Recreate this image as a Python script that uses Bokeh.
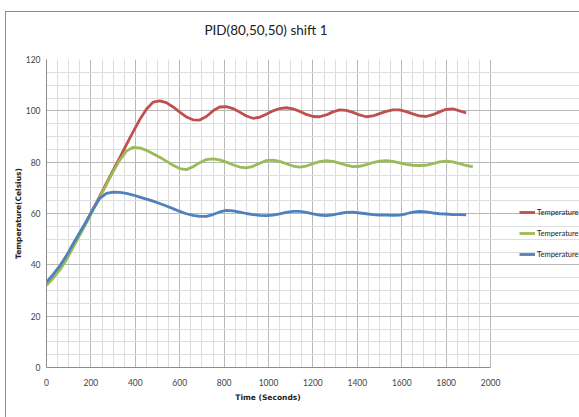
from bokeh.plotting import figure
from bokeh.layouts import column
from bokeh.models import (Range1d, SingleIntervalTicker, Legend, LegendItem, Div)
from bokeh.embed import file_html
from bokeh.resources import INLINE

# Sampling times (s)
time_s = [0, 30, 60, 90, 120, 150, 180, 210, 240, 270, 300, 330, 360, 390, 420,
          450, 480, 510, 540, 570, 600, 630, 660, 690, 720, 750, 780, 810, 840,
          870, 900, 930, 960, 990, 1020, 1050, 1080, 1110, 1140, 1170, 1200,
          1230, 1260, 1290, 1320, 1350, 1380, 1410, 1440, 1470, 1500, 1530,
          1560, 1590, 1620, 1650, 1680, 1710, 1740, 1770, 1800, 1830, 1860, 1890]
time_green = time_s + [1920]

temp_red = [33.0, 35.6, 38.6, 42.5, 47.3, 52.1, 56.9, 61.8, 66.8, 71.8, 76.8,
            81.8, 86.8, 91.8, 96.6, 100.6, 103.4, 103.9, 103.2, 101.5, 99.5,
            97.6, 96.5, 96.4, 97.8, 100.0, 101.5, 101.6, 100.9, 99.5, 98.0,
            97.1, 97.5, 98.7, 100.0, 100.9, 101.2, 100.8, 99.8, 98.6, 97.8,
            97.7, 98.4, 99.6, 100.4, 100.2, 99.4, 98.4, 97.7, 98.0, 98.9, 99.8,
            100.4, 100.4, 99.7, 98.8, 98.0, 97.8, 98.5, 99.6, 100.6, 100.8,
            100.0, 99.2]

temp_green = [32.0, 34.8, 38.0, 42.0, 46.8, 51.6, 56.4, 61.3, 66.3, 71.3, 76.2,
              80.8, 84.3, 85.8, 85.6, 84.6, 83.3, 81.9, 80.4, 78.8, 77.5, 77.1,
              78.2, 79.8, 81.0, 81.3, 80.9, 80.0, 79.0, 78.1, 77.8, 78.4, 79.6,
              80.6, 80.8, 80.3, 79.4, 78.5, 78.1, 78.5, 79.4, 80.2, 80.6, 80.3,
              79.6, 78.8, 78.3, 78.4, 79.0, 79.8, 80.4, 80.6, 80.3, 79.7, 79.1,
              78.8, 78.7, 78.8, 79.4, 80.1, 80.4, 80.1, 79.4, 78.7, 78.3]

temp_blue = [33.2, 36.3, 39.6, 43.6, 48.2, 52.6, 57.0, 61.8, 65.9, 67.8, 68.3,
             68.2, 67.8, 67.2, 66.4, 65.6, 64.8, 63.9, 62.9, 61.9, 60.8, 59.9,
             59.3, 58.9, 58.9, 59.6, 60.6, 61.2, 61.0, 60.5, 60.0, 59.6, 59.3,
             59.2, 59.4, 59.9, 60.4, 60.8, 60.8, 60.4, 59.9, 59.4, 59.2, 59.5,
             60.0, 60.4, 60.5, 60.2, 59.9, 59.6, 59.4, 59.4, 59.3, 59.4, 59.9,
             60.5, 60.8, 60.6, 60.2, 59.9, 59.8, 59.6, 59.6, 59.5]

series_labels = ["Temperature", "Temperature", "Temperature"]
x_ticks = [0, 200, 400, 600, 800, 1000, 1200, 1400, 1600, 1800, 2000]
y_ticks = [0, 20, 40, 60, 80, 100, 120]

RED, GREEN, BLUE = "#C0504D", "#9BBB59", "#4F81BD"
FONT = "Lato"

title_div = Div(text="PID(80,50,50) shift 1", width=520, height=36, margin=0,
                styles={"font-family": FONT, "font-size": "13.5px",
                        "color": "#222222", "text-align": "center",
                        "line-height": "36px", "white-space": "nowrap"})

# The frame runs to the right edge so the legend can sit beside the grid;
# axis and grid are bounded to 0..2000.
p = figure(width=574, height=345, output_backend="svg", toolbar_location=None,
           x_range=Range1d(x_ticks[0], 2405),
           y_range=Range1d(y_ticks[0], y_ticks[-1]),
           min_border_left=40, min_border_right=0,
           min_border_top=11, min_border_bottom=26)

p.outline_line_color = None
p.background_fill_color = "white"
p.border_fill_color = "white"

p.xaxis.ticker = SingleIntervalTicker(interval=200, num_minor_ticks=4)
p.yaxis.ticker = SingleIntervalTicker(interval=20, num_minor_ticks=4)
p.xaxis.bounds = (x_ticks[0], x_ticks[-1])
p.xgrid.bounds = (x_ticks[0], x_ticks[-1])
p.ygrid.bounds = (x_ticks[0], x_ticks[-1])

for ax in (p.xaxis[0], p.yaxis[0]):
    ax.axis_line_color = "#8c8c8c"
    ax.major_tick_line_color = None
    ax.minor_tick_line_color = None
    ax.major_tick_out = 0
    ax.minor_tick_out = 0
    ax.major_tick_in = 0
    ax.minor_tick_in = 0
    ax.major_label_text_font = FONT
    ax.major_label_text_font_size = "8.5px"
    ax.major_label_text_color = "#444444"
    ax.axis_label_text_font = "DejaVu Sans"
    ax.axis_label_text_font_size = "7.5px"
    ax.axis_label_text_font_style = "bold"
    ax.axis_label_text_color = "#222222"

p.yaxis.axis_label = "Temperature(Celsius)"
p.xaxis.major_label_standoff = 11
p.yaxis.major_label_standoff = 6
p.yaxis.axis_label_standoff = 0

p.xgrid.grid_line_color = "#b8b8b8"
p.ygrid.grid_line_color = "#b8b8b8"
p.xgrid.minor_grid_line_color = "#dedede"
p.ygrid.minor_grid_line_color = "#dedede"

r_red = p.line(time_s, temp_red, line_color=RED, line_width=2.8)
r_green = p.line(time_green, temp_green, line_color=GREEN, line_width=2.8)
r_blue = p.line(time_s, temp_blue, line_color=BLUE, line_width=2.8)

legend = Legend(items=[LegendItem(label=series_labels[0], renderers=[r_red]),
                       LegendItem(label=series_labels[1], renderers=[r_green]),
                       LegendItem(label=series_labels[2], renderers=[r_blue])],
                location=(473, 107), padding=0, margin=0, spacing=9,
                glyph_width=16, glyph_height=12, label_height=12,
                label_standoff=2, label_text_font=FONT,
                label_text_font_size="7.5px", label_text_color="#222222",
                border_line_color=None, background_fill_alpha=0)
p.add_layout(legend)

xlabel_div = Div(text="Time (Seconds)", width=524, height=25, margin=0,
                 styles={"font-family": "DejaVu Sans", "font-size": "7.5px",
                         "font-weight": "bold", "color": "#222222",
                         "text-align": "center", "line-height": "10px",
                         "white-space": "nowrap"})

# thin grey chart-area border on the top and left sides
layout = column(title_div, p, xlabel_div, spacing=0,
                styles={"margin-left": "5px", "margin-top": "11px",
                        "border-left": "1px solid #8c8c8c",
                        "border-top": "1px solid #8c8c8c",
                        "background-color": "white"})

open("out.html", "w").write(file_html(layout, INLINE))
